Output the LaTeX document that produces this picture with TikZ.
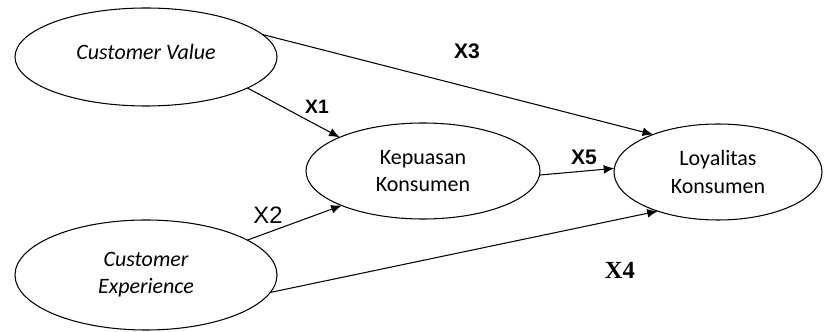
\documentclass[tikz,border=0pt]{standalone}
\usepackage{fontspec}
\setmainfont{Carlito}
\newfontfamily\arialfont{Liberation Sans}
\newfontfamily\timesfont{Liberation Serif}
\usetikzlibrary{shapes.geometric,arrows.meta}
\begin{document}
\begin{tikzpicture}[line width=0.6pt,
        var/.style={draw,ellipse,inner sep=0pt,outer sep=0pt,align=center,font=\fontsize{12.5}{15.5}\selectfont},
        path/.style={-{Latex[length=6pt,width=5pt]}}]
    \useasboundingbox (0,0) rectangle (16.48,6.64);
    \node[var,minimum width=5.24cm,minimum height=1.96cm] (cv) at (2.92,5.50) {\raisebox{6pt}{\itshape Customer Value}};
    \node[var,minimum width=5.24cm,minimum height=2.2cm] (ce) at (2.92,1.14) {\itshape Customer\\\itshape Experience};
    \node[var,minimum width=4.68cm,minimum height=1.92cm] (kep) at (8.46,3.22) {Kepuasan\\Konsumen};
    \node[var,minimum width=4.16cm,minimum height=1.92cm] (loy) at (14.36,3.20) {Loyalitas\\Konsumen};
    \draw[path] (cv.-17) -- (kep.158);
    \draw[path] (cv.11) -- (loy.150);
    \draw[path] (ce.19) -- (kep.203);
    \draw[path] (ce.-8) -- (loy.213);
    \draw[path] (kep.-2) -- (loy.178);
    \node[font=\arialfont\bfseries\fontsize{11}{13}\selectfont] (x1) at (6.34,4.50) {X1};
    \node[font=\arialfont\fontsize{13.5}{16}\selectfont] (x2) at (5.36,2.34) {X2};
    \node[font=\arialfont\bfseries\fontsize{12}{14}\selectfont] (x3) at (9.34,5.62) {X3};
    \node[font=\timesfont\bfseries\fontsize{14}{16}\selectfont] (x4) at (12.40,1.24) {X4};
    \node[font=\arialfont\bfseries\fontsize{12}{14}\selectfont] (x5) at (11.68,3.50) {X5};
\end{tikzpicture}
\end{document}
